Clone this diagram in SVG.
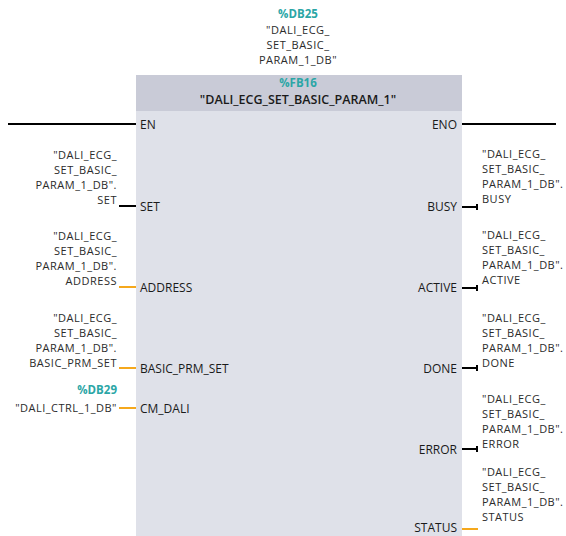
<svg xmlns="http://www.w3.org/2000/svg" width="566" height="536" viewBox="0 0 566 536">
<style>
text{font-family:"Open Sans","Noto Sans","Liberation Sans",sans-serif;font-size:11px;letter-spacing:0.5px;fill:#2b2b2b}
.t{fill:#2ba6a6;font-weight:bold;font-size:11.5px;letter-spacing:0}
.l{text-anchor:end}
.c{text-anchor:middle}
.pin{font-size:12px;letter-spacing:0;fill:#1a1a1a}
.bk{stroke:#000;stroke-width:2;fill:none}
.or{stroke:#f5a81c;stroke-width:2;fill:none}
</style>
<rect width="566" height="536" fill="#fff"/>
<g id="instance-db">
<text class="t c" x="298" y="18">%DB25</text>
<text class="c" x="298" y="34">"DALI_ECG_</text>
<text class="c" x="298" y="49">SET_BASIC_</text>
<text class="c" x="298" y="64">PARAM_1_DB"</text>
</g>
<g id="block">
<rect x="136" y="75" width="326" height="461" fill="#dfe1e9"/>
<rect x="136" y="75" width="326" height="36" fill="#c9cbd7"/>
<text class="t c" x="298" y="87">%FB16</text>
<text class="c" x="298" y="104" style="font-size:12.5px;letter-spacing:0;font-weight:600;fill:#1a1a1a">"DALI_ECG_SET_BASIC_PARAM_1"</text>
<text class="pin" x="140" y="129">EN</text>
<text class="pin l" x="457" y="129">ENO</text>
<text class="pin" x="140" y="211">SET</text>
<text class="pin" x="140" y="292">ADDRESS</text>
<text class="pin" x="140" y="373">BASIC_PRM_SET</text>
<text class="pin" x="140" y="413">CM_DALI</text>
<text class="pin l" x="457" y="211">BUSY</text>
<text class="pin l" x="457" y="292">ACTIVE</text>
<text class="pin l" x="457" y="373">DONE</text>
<text class="pin l" x="457" y="454">ERROR</text>
<text class="pin l" x="457" y="532">STATUS</text>
</g>
<g id="connectors">
<line class="bk" x1="8" y1="124" x2="136" y2="124"/>
<line class="bk" x1="462" y1="124" x2="556" y2="124"/>
<line class="bk" x1="119" y1="206" x2="136" y2="206"/>
<line class="or" x1="119" y1="287" x2="136" y2="287"/>
<line class="or" x1="119" y1="368" x2="136" y2="368"/>
<line class="or" x1="119" y1="408" x2="136" y2="408"/>
<path class="bk" d="M462 207H477M477 204V210"/>
<path class="bk" d="M462 288H477M477 285V291"/>
<path class="bk" d="M462 368H477M477 365V371"/>
<path class="bk" d="M462 449H477M477 446V452"/>
<line class="or" x1="462" y1="529" x2="478" y2="529"/>
</g>
<g id="in-set">
<text class="l" x="117" y="159">"DALI_ECG_</text>
<text class="l" x="117" y="174">SET_BASIC_</text>
<text class="l" x="117" y="189">PARAM_1_DB".</text>
<text class="l" x="117" y="204">SET</text>
</g>
<g id="in-address">
<text class="l" x="117" y="240">"DALI_ECG_</text>
<text class="l" x="117" y="255">SET_BASIC_</text>
<text class="l" x="117" y="270">PARAM_1_DB".</text>
<text class="l" x="117" y="285">ADDRESS</text>
</g>
<g id="in-basic">
<text class="l" x="117" y="322">"DALI_ECG_</text>
<text class="l" x="117" y="337">SET_BASIC_</text>
<text class="l" x="117" y="352">PARAM_1_DB".</text>
<text class="l" x="117" y="367">BASIC_PRM_SET</text>
</g>
<g id="in-cm">
<text class="t l" x="117" y="394">%DB29</text>
<text class="l" x="117" y="412">"DALI_CTRL_1_DB"</text>
</g>
<g id="out-busy">
<text x="482" y="158">"DALI_ECG_</text>
<text x="482" y="173">SET_BASIC_</text>
<text x="482" y="188">PARAM_1_DB".</text>
<text x="482" y="203">BUSY</text>
</g>
<g id="out-active">
<text x="482" y="239">"DALI_ECG_</text>
<text x="482" y="254">SET_BASIC_</text>
<text x="482" y="269">PARAM_1_DB".</text>
<text x="482" y="284">ACTIVE</text>
</g>
<g id="out-done">
<text x="482" y="322">"DALI_ECG_</text>
<text x="482" y="337">SET_BASIC_</text>
<text x="482" y="352">PARAM_1_DB".</text>
<text x="482" y="367">DONE</text>
</g>
<g id="out-error">
<text x="482" y="403">"DALI_ECG_</text>
<text x="482" y="418">SET_BASIC_</text>
<text x="482" y="433">PARAM_1_DB".</text>
<text x="482" y="448">ERROR</text>
</g>
<g id="out-status">
<text x="482" y="476">"DALI_ECG_</text>
<text x="482" y="491">SET_BASIC_</text>
<text x="482" y="506">PARAM_1_DB".</text>
<text x="482" y="521">STATUS</text>
</g>
</svg>
